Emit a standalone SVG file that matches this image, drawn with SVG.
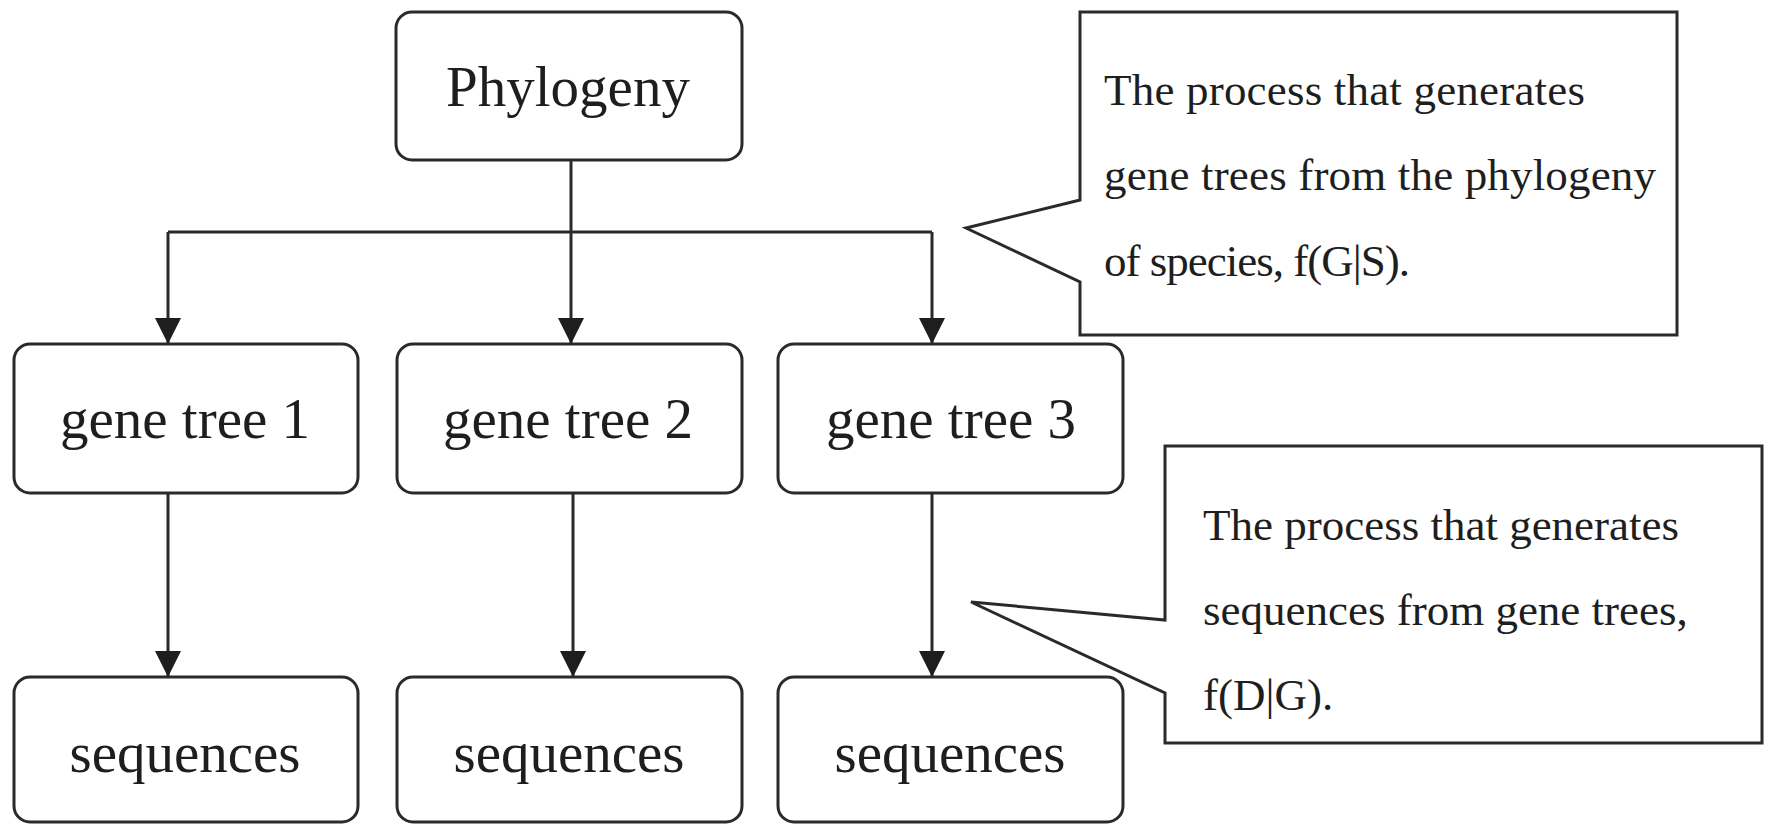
<svg xmlns="http://www.w3.org/2000/svg" width="1770" height="824" viewBox="0 0 1770 824">
  <style>
    .box { fill: #ffffff; stroke: #2a2a2a; stroke-width: 3; }
    .call { fill: #ffffff; stroke: #2a2a2a; stroke-width: 3; stroke-linejoin: miter; }
    .lbl { font-family: "Liberation Serif", "Times New Roman", serif; font-size: 57px; fill: #1e1e1e; text-anchor: middle; }
    .ctext { font-family: "Liberation Serif", "Times New Roman", serif; font-size: 45px; fill: #1e1e1e; }
    .conn { fill: none; stroke: #2a2a2a; stroke-width: 3; }
  </style>
  <defs>
    <marker id="arrow" markerUnits="userSpaceOnUse" markerWidth="26" markerHeight="26" refX="26" refY="13" orient="auto">
      <path d="M0,0 L26,13 L0,26 Z" fill="#1e1e1e"/>
    </marker>
  </defs>
  <rect width="1770" height="824" fill="#ffffff"/>

  <g id="connectors">
    <path class="conn" d="M571 160 V344" marker-end="url(#arrow)"/>
    <path class="conn" d="M168 232 H932"/>
    <path class="conn" d="M168 232 V344" marker-end="url(#arrow)"/>
    <path class="conn" d="M932 232 V344" marker-end="url(#arrow)"/>
    <path class="conn" d="M168 493 V677" marker-end="url(#arrow)"/>
    <path class="conn" d="M573 493 V677" marker-end="url(#arrow)"/>
    <path class="conn" d="M932 493 V677" marker-end="url(#arrow)"/>
  </g>

  <g id="phylogeny">
    <rect class="box" x="396" y="12" width="346" height="148" rx="16"/>
    <text class="lbl" x="568" y="106">Phylogeny</text>
  </g>

  <g id="gene-tree-1">
    <rect class="box" x="14" y="344" width="344" height="149" rx="16"/>
    <text class="lbl" x="185" y="438">gene tree 1</text>
  </g>
  <g id="gene-tree-2">
    <rect class="box" x="397" y="344" width="345" height="149" rx="16"/>
    <text class="lbl" x="568" y="438">gene tree 2</text>
  </g>
  <g id="gene-tree-3">
    <rect class="box" x="778" y="344" width="345" height="149" rx="16"/>
    <text class="lbl" x="951" y="438">gene tree 3</text>
  </g>

  <g id="sequences-1">
    <rect class="box" x="14" y="677" width="344" height="145" rx="16"/>
    <text class="lbl" x="185" y="772">sequences</text>
  </g>
  <g id="sequences-2">
    <rect class="box" x="397" y="677" width="345" height="145" rx="16"/>
    <text class="lbl" x="569" y="772">sequences</text>
  </g>
  <g id="sequences-3">
    <rect class="box" x="778" y="677" width="345" height="145" rx="16"/>
    <text class="lbl" x="950" y="772">sequences</text>
  </g>

  <g id="callout-gene-trees">
    <path class="call" d="M1080 12 H1677 V335 H1080 V282 L966 228 L1080 200 Z"/>
    <text class="ctext" x="1104" y="105" textLength="481">The process that generates</text>
    <text class="ctext" x="1104" y="190" textLength="552">gene trees from the phylogeny</text>
    <text class="ctext" x="1104" y="276" textLength="306">of species, f(G|S).</text>
  </g>

  <g id="callout-sequences">
    <path class="call" d="M1165 446 H1762 V743 H1165 V693 L971 602 L1165 620 Z"/>
    <text class="ctext" x="1203" y="540">The process that generates</text>
    <text class="ctext" x="1203" y="625">sequences from gene trees,</text>
    <text class="ctext" x="1203" y="710">f(D|G).</text>
  </g>
</svg>
